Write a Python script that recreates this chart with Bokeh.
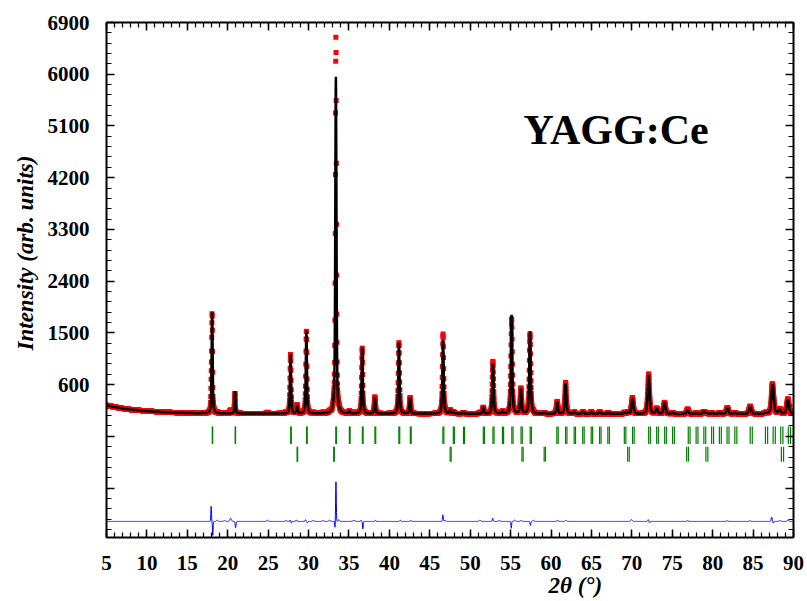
import numpy as np
from bokeh.plotting import figure
from bokeh.models import (Range1d, LinearAxis, FixedTicker, CustomJSTickFormatter,
                          Label, Title, ColumnDataSource)
from bokeh.embed import file_html
from bokeh.resources import INLINE

# ---------------- data ----------------
# measurement grid (2theta, degrees)
scan_start, scan_end, scan_step = 5.0, 90.0, 0.02

# background knots (2theta, counts)
bg_x = [5, 6, 7, 8, 10, 12, 14, 16, 20, 30, 45, 60, 75, 90]
bg_y = [240, 210, 185, 165, 140, 122, 110, 102, 97, 95, 93, 90, 88, 88]

# calculated reflections: position, net height, FWHM
peak_pos = [18.07, 20.90, 27.77, 28.58, 29.73, 33.11, 33.38, 35.05, 36.64, 38.20,
            41.18, 42.56, 46.64, 47.52, 47.93, 49.18, 51.62, 52.81, 54.00, 55.12,
            56.27, 57.40, 59.15, 60.76, 61.80, 62.88, 63.95, 64.98, 66.03, 67.05,
            69.10, 69.50, 70.08, 72.08, 73.08, 74.04, 75.06, 76.90, 77.98, 78.90,
            79.20, 79.90, 80.86, 81.82, 82.76, 84.64, 86.55, 87.42, 88.28, 89.30]
peak_height = [1775, 390, 1025, 135, 1445, 60, 5855, 40, 1155, 285,
               1235, 275, 1280, 60, 30, 20, 110, 865, 40, 1720,
               425, 1430, 20, 200, 530, 30, 35, 35, 35, 25,
               25, 30, 270, 680, 95, 200, 20, 75, 20, 40,
               20, 15, 20, 100, 20, 125, 20, 520, 70, 240]
peak_fwhm = [0.15, 0.15, 0.16, 0.18, 0.16, 0.18, 0.17, 0.17, 0.17, 0.17,
             0.18, 0.18, 0.19, 0.20, 0.20, 0.20, 0.20, 0.20, 0.20, 0.20,
             0.21, 0.21, 0.22, 0.22, 0.22, 0.23, 0.23, 0.23, 0.23, 0.24,
             0.25, 0.25, 0.26, 0.27, 0.27, 0.28, 0.28, 0.29, 0.29, 0.30,
             0.30, 0.30, 0.30, 0.30, 0.31, 0.32, 0.33, 0.33, 0.33, 0.34]

# difference (obs - calc) features: position, amplitude, sigma
diff_pos = [17.95, 18.15, 18.7, 19.6, 20.35, 20.97, 24.9, 27.2, 27.72, 27.88,
            28.5, 29.62, 29.85, 30.6, 31.8, 32.6, 33.27, 33.39, 33.75, 35.6,
            36.5, 36.72, 38.28, 41.35, 42.65, 46.62, 46.9, 51.2, 52.78, 53.6,
            55.08, 55.5, 56.3, 57.45, 57.8, 60.8, 61.85, 69.95, 72.02, 72.2,
            76.9, 81.8, 84.6, 87.3, 87.5, 88.3, 89.3]
diff_amp = [270, -250, 20, 15, 55, -110, 20, 15, 25, -30,
            25, 30, -25, 15, 15, 20, -110, 710, 30, 15,
            20, -130, 20, 20, 20, 115, 20, 20, 55, 15,
            -120, 20, 15, -70, 20, 15, 20, 30, 30, -25,
            10, 10, 10, 75, -30, 15, 20]
diff_sigma = [0.04, 0.04, 0.08, 0.1, 0.1, 0.05, 0.1, 0.1, 0.04, 0.04,
              0.06, 0.05, 0.05, 0.1, 0.1, 0.1, 0.03, 0.04, 0.08, 0.15,
              0.05, 0.04, 0.05, 0.06, 0.05, 0.05, 0.08, 0.1, 0.05, 0.1,
              0.04, 0.1, 0.1, 0.05, 0.08, 0.1, 0.08, 0.1, 0.06, 0.06,
              0.1, 0.1, 0.1, 0.06, 0.06, 0.1, 0.1]
diff_offset = -1780

# Bragg positions, phase 1 (garnet) and phase 2 (CeO2), Ka1 and Ka2
phase1_ka1 = [18.09, 20.92, 27.79, 29.76, 33.37, 35.05, 36.66, 38.21, 41.17, 42.59,
              46.62, 47.91, 49.17, 51.62, 52.81, 53.99, 55.15, 56.29, 57.42, 60.72,
              61.80, 62.86, 63.92, 64.97, 66.01, 67.03, 69.07, 70.09, 72.08, 73.07,
              74.06, 75.04, 76.98, 77.95, 78.91, 79.87, 80.83, 81.78, 82.74, 84.64,
              86.53, 87.48, 88.42, 89.36]
phase1_ka2 = [18.14, 20.97, 27.86, 29.83, 33.45, 35.14, 36.75, 38.31, 41.28, 42.70,
              46.74, 48.04, 49.30, 51.76, 52.95, 54.13, 55.30, 56.44, 57.57, 60.89,
              61.97, 63.03, 64.10, 65.15, 66.19, 67.22, 69.26, 70.29, 72.29, 73.28,
              74.27, 75.26, 77.20, 78.18, 79.14, 80.11, 81.07, 82.02, 82.99, 84.90,
              86.80, 87.75, 88.69, 89.64]
phase2_ka1 = [28.58, 33.11, 47.52, 56.40, 59.15, 69.48, 76.78, 79.16, 88.50]
phase2_ka2 = [28.65, 33.19, 47.64, 56.55, 59.31, 69.68, 77.00, 79.40, 88.77]
row1_span = (-435, -130)
row2_span = (-740, -480)

x_ticks = list(range(5, 91, 5))
x_minor = list(range(5, 91))
y_ticks = [-2100, -1200, -300, 600, 1500, 2400, 3300, 4200, 5100, 6000, 6900]
y_minor = list(range(-2100, 6901, 180))

# ---------------- build profile ----------------
tt = np.arange(scan_start, scan_end + 1e-9, scan_step)
calc = np.interp(tt, bg_x, bg_y).astype(float)
for x0, h, w in zip(peak_pos, peak_height, peak_fwhm):
    d = (tt - x0) / w
    calc += h * (0.5 / (1 + 4 * d * d) + 0.5 * np.exp(-4 * np.log(2) * d * d))
diff = np.zeros_like(tt)
for x0, a, s in zip(diff_pos, diff_amp, diff_sigma):
    diff += a * np.exp(-0.5 * ((tt - x0) / s) ** 2)
obs = calc + diff

src = ColumnDataSource(dict(tt=tt, obs=obs, calc=calc, diff=diff + diff_offset))

# ---------------- figure ----------------
p = figure(width=807, height=601, output_backend="svg", toolbar_location=None,
           x_range=Range1d(5, 90), y_range=Range1d(-2060, 6900),
           min_border_left=106, min_border_right=14, min_border_top=22,
           min_border_bottom=64, x_axis_location=None, y_axis_location=None,
           background_fill_color="white", border_fill_color="white")
p.grid.visible = False
p.outline_line_color = "black"
p.outline_line_width = 1

p.scatter("tt", "obs", source=src, marker="square", size=5,
          fill_color="#ff0000", line_color=None)
p.line("tt", "calc", source=src, line_color="black", line_width=2.5)
p.line("tt", "diff", source=src, line_color="#0000ff", line_width=1)

g1 = phase1_ka1 + phase1_ka2
p.segment(x0=g1, x1=g1, y0=[row1_span[0]] * len(g1), y1=[row1_span[1]] * len(g1),
          line_color="#008000", line_width=1.2)
g2 = phase2_ka1 + phase2_ka2
p.segment(x0=g2, x1=g2, y0=[row2_span[0]] * len(g2), y1=[row2_span[1]] * len(g2),
          line_color="#008000", line_width=1.2)

xt = FixedTicker(ticks=x_ticks, minor_ticks=x_minor)
yt = FixedTicker(ticks=y_ticks, minor_ticks=y_minor)
blank = CustomJSTickFormatter(code="return '';")
yfmt = CustomJSTickFormatter(code="return tick >= 600 ? tick.toString() : '';")


def style(ax, ticker, labels):
    ax.ticker = ticker
    ax.axis_line_width = 2
    ax.axis_line_color = "black"
    ax.major_tick_in = 8
    ax.major_tick_out = 0
    ax.minor_tick_in = 5
    ax.minor_tick_out = 0
    ax.major_tick_line_width = 1.5
    ax.minor_tick_line_width = 1.2
    ax.major_tick_line_color = "black"
    ax.minor_tick_line_color = "black"
    ax.major_label_text_font = "Liberation Serif"
    ax.major_label_text_font_style = "bold"
    ax.major_label_text_font_size = "21px"
    ax.major_label_text_color = "black"
    if not labels:
        ax.formatter = blank
        ax.major_label_standoff = 0
        ax.major_label_text_font_size = "0px"


bottom = LinearAxis()
style(bottom, xt, True)
bottom.major_label_standoff = 18
left = LinearAxis()
style(left, yt, True)
left.formatter = yfmt
left.major_label_standoff = 17
top = LinearAxis()
style(top, xt, False)
right = LinearAxis()
style(right, yt, False)
p.add_layout(bottom, "below")
p.add_layout(left, "left")
p.add_layout(top, "above")
p.add_layout(right, "right")

p.add_layout(Label(x=56.6, y=5030, text="YAGG:Ce", text_font="Liberation Serif",
                   text_font_style="bold", text_font_size="42px", text_color="black",
                   text_baseline="alphabetic", text_align="left"))

ytitle = Title(text="Intensity (arb. units)", align="left", offset=187,
               text_font="Liberation Serif", text_font_style="bold italic",
               text_font_size="23px", text_color="black", standoff=14)
p.add_layout(ytitle, "left")
xtitle = Title(text="2θ (°)", align="left", offset=442,
               text_font="Liberation Serif", text_font_style="bold italic",
               text_font_size="23px", text_color="black", standoff=-4)
p.add_layout(xtitle, "below")

open("out.html", "w").write(file_html(p, INLINE))
